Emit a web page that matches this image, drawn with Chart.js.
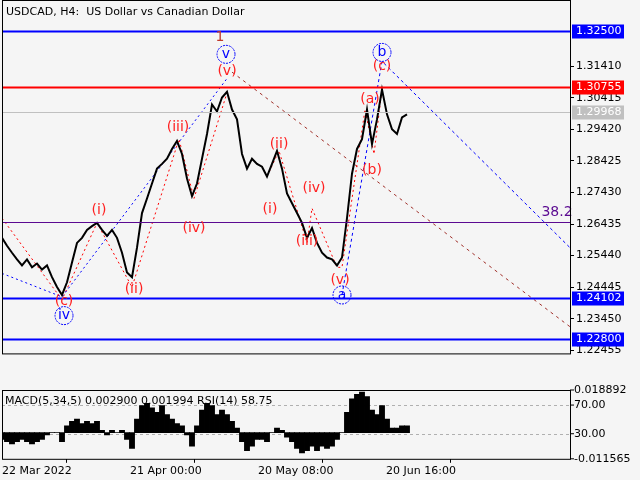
<!DOCTYPE html>
<html>
<head>
<meta charset="utf-8">
<script src="https://cdn.jsdelivr.net/npm/chart.js@4"></script>
<style>
  body { margin: 0; background: #f5f5f5; width: 640px; height: 480px; overflow: hidden; }
  .box { position: absolute; left: 0; width: 640px; }
</style>
</head>
<body>
<div class="box" style="top:0;height:362px"><canvas id="main"></canvas></div>
<div class="box" style="top:385px;height:95px"><canvas id="sub"></canvas></div>
<script>
// 가격 (H4 종가, 그림에서 읽은 값) — x는 차트 위치 인덱스
const barX = [];
for (let x = 0; x <= 405; x += 5) barX.push(x);
const closes = [1.2600,1.2575,1.2553,1.2532,1.2513,1.2532,1.2507,1.2519,1.2500,1.2513,1.2476,1.2445,1.2420,1.2460,1.2522,1.2584,1.2600,1.2625,1.2637,1.2647,
  1.2625,1.2606,1.2625,1.2600,1.2553,1.2491,1.2476,1.2569,1.2678,1.2724,1.2771,1.2818,1.2833,1.2849,1.2880,1.2905,1.2864,1.2787,1.2731,1.2771,
  1.2849,1.2927,1.3020,1.2998,1.3042,1.3060,1.3004,1.2973,1.2864,1.2818,1.2849,1.2833,1.2824,1.2793,1.2833,1.2874,1.2818,1.2740,1.2709,1.2678,
  1.2647,1.2600,1.2631,1.2584,1.2553,1.2538,1.2532,1.2513,1.2538,1.2662,1.2802,1.2880,1.2911,1.3004,1.2895,1.2973,1.3067,1.2989,1.2942,1.2927,1.2979,1.2989];
const macdHist = [-0.003,-0.004,-0.005,-0.004,-0.003,-0.004,-0.005,-0.004,-0.003,-0.001,0.000,0.000,-0.004,0.003,0.005,0.006,0.004,0.005,0.004,0.005,
  0.001,-0.001,0.001,0.000,0.001,-0.003,-0.007,0.006,0.012,0.013,0.011,0.009,0.012,0.008,0.006,0.004,0.003,-0.001,-0.006,0.003,
  0.010,0.013,0.012,0.008,0.010,0.008,0.005,0.002,-0.004,-0.008,-0.006,-0.003,-0.003,-0.004,0.000,0.002,0.001,-0.002,-0.004,-0.007,
  -0.009,-0.008,-0.006,-0.008,-0.006,-0.007,-0.006,-0.003,0.000,0.009,0.015,0.017,0.018,0.016,0.010,0.008,0.012,0.006,0.002,0.002,0.003,0.003];
const rsi = [38,34,40,32,36,44,42,48,40,45,38,50,40,60,62,58,68,72,68,62,
  55,50,55,48,52,42,35,68,72,66,62,60,58,56,52,54,48,40,36,55,
  72,70,64,60,66,55,52,45,32,40,38,50,46,52,48,55,50,42,36,40,
  34,38,38,35,42,38,48,45,52,75,88,90,92,86,66,68,72,58,50,58,55,60];

const priceTicks = [1.31410,1.30415,1.29420,1.28425,1.27430,1.26435,1.25440,1.24445,1.23450,1.22455];
const levels = [
  { price: 1.32500, color: "#0000ff", label: "1.32500", text: "#fff" },
  { price: 1.30755, color: "#ff0000", label: "1.30755", text: "#fff" },
  { price: 1.29968, color: "#c0c0c0", label: "1.29968", text: "#fff", width: 1 },
  { price: 1.26500, color: "#5b0a91", label: null, width: 1 },
  { price: 1.24102, color: "#0000ff", label: "1.24102", text: "#fff" },
  { price: 1.22800, color: "#0000ff", label: "1.22800", text: "#fff" },
];
// 파동 연결선 [x, price]
const waveBlue = [[0,1.2488],[60,1.2414],[226,1.3106]];
const waveBlue2 = [[340,1.2420],[380,1.3156],[568,1.2569]];
const waveRed = [[0,1.2662],[60,1.2405],[95,1.2647],[130,1.2445],[177,1.2911],[192,1.2724],[226,1.3067]];
const waveRed2 = [[265,1.2793],[277,1.2874],[305,1.2584],[310,1.2693],[335,1.2507],[340,1.2507],[363,1.3004],[372,1.2864],[380,1.3067]];
const waveBrown = [[230,1.3122],[568,1.2320]];
const waveLabels = [
  ["1", 218, 1.3232, "#c0392b"], ["(v)", 225, 1.3125, "#ff2020"], ["(iii)", 176, 1.2948, "#ff2020"],
  ["(i)", 97, 1.2687, "#ff2020"], ["(iv)", 192, 1.2631, "#ff2020"], ["(ii)", 132, 1.2438, "#ff2020"],
  ["(i)", 268, 1.2690, "#ff2020"], ["(ii)", 277, 1.2895, "#ff2020"], ["(iv)", 312, 1.2755, "#ff2020"],
  ["(iii)", 305, 1.2590, "#ff2020"], ["(v)", 338, 1.2466, "#ff2020"], ["(a)", 368, 1.3035, "#ff2020"],
  ["(b)", 370, 1.2812, "#ff2020"], ["(c)", 380, 1.3140, "#ff2020"], ["(c)", 62, 1.2401, "#ff2020"],
  ["38.2", 555, 1.2680, "#5b0a91"],
];
const circleLabels = [["v", 224, 1.3178], ["b", 380, 1.3184], ["a", 340, 1.2420], ["iv", 62, 1.2355]];

const FONT = "11px 'DejaVu Sans', sans-serif";
const dash = (pts, color, d) => ({
  type: "line", data: pts.map(p => ({ x: p[0], y: p[1] })), borderColor: color,
  borderWidth: 1, borderDash: d, pointRadius: 0, tension: 0,
});

const overlay = {
  id: "overlay",
  afterDatasetsDraw(chart) {
    const { ctx, chartArea: a, scales: { x, y } } = chart;
    ctx.save();
    levels.forEach(l => {
      const py = Math.round(y.getPixelForValue(l.price)) + 0.5;
      ctx.strokeStyle = l.color; ctx.lineWidth = l.width || 2;
      ctx.beginPath(); ctx.moveTo(a.left, py); ctx.lineTo(a.right, py); ctx.stroke();
      if (l.label) {
        ctx.fillStyle = l.color; ctx.fillRect(a.right + 2, py - 7, 52, 14);
        ctx.fillStyle = l.text; ctx.font = FONT; ctx.textBaseline = "middle";
        ctx.fillText(l.label, a.right + 6, py);
      }
    });
    ctx.textAlign = "center"; ctx.textBaseline = "middle"; ctx.font = "14px 'DejaVu Sans', sans-serif";
    waveLabels.forEach(([t, vx, vy, c]) => {
      ctx.fillStyle = c; ctx.fillText(t, x.getPixelForValue(vx), y.getPixelForValue(vy));
    });
    circleLabels.forEach(([t, vx, vy]) => {
      const px = x.getPixelForValue(vx), py = y.getPixelForValue(vy);
      ctx.strokeStyle = "#0000ff"; ctx.lineWidth = 1; ctx.setLineDash([2, 1]);
      ctx.beginPath(); ctx.arc(px, py, 9, 0, Math.PI * 2); ctx.stroke(); ctx.setLineDash([]);
      ctx.fillStyle = "#0000ff"; ctx.fillText(t, px, py);
    });
    ctx.strokeStyle = "#000"; ctx.lineWidth = 1;
    ctx.strokeRect(a.left + 0.5, 0.5, a.right - a.left, a.bottom);
    ctx.textAlign = "left"; ctx.fillStyle = "#000"; ctx.font = FONT;
    ctx.fillText("USDCAD, H4:  US Dollar vs Canadian Dollar", 6, 12);
    ctx.restore();
  },
};

new Chart(document.getElementById("main"), {
  type: "line",
  data: {
    datasets: [
      { data: barX.map((v, i) => ({ x: v, y: closes[i] })), borderColor: "#000", borderWidth: 2, pointRadius: 0, tension: 0 },
      dash(waveBlue, "#0000ff", [2, 3]),
      dash(waveBlue2, "#0000ff", [3, 3]),
      dash(waveRed, "#ff0000", [2, 3]),
      dash(waveRed2, "#ff0000", [2, 3]),
      dash(waveBrown, "#a0302a", [3, 4]),
    ],
  },
  options: {
    responsive: true, maintainAspectRatio: false, animation: false,
    layout: { padding: { top: 8, left: 2, bottom: 3 } },
    plugins: { legend: { display: false }, tooltip: { enabled: false } },
    scales: {
      x: { type: "linear", min: 0, max: 568, display: false },
      y: {
        position: "right", min: 1.2236, max: 1.3322,
        afterFit: s => { s.width = 70; },
        afterBuildTicks: s => { s.ticks = priceTicks.map(v => ({ value: v })); },
        grid: { drawOnChartArea: false, tickLength: 4, color: "#000" },
        border: { color: "#000" },
        ticks: { color: "#000", font: { size: 11, family: "DejaVu Sans" }, padding: 2, callback: v => v.toFixed(5) },
      },
    },
  },
  plugins: [overlay],
});

// 하단 MACD + RSI 패널
const dateTicks = [0, 128, 256, 384];
const dateLabels = ["22 Mar 2022", "21 Apr 00:00", "20 May 08:00", "20 Jun 16:00"];
const subOverlay = {
  id: "subOverlay",
  beforeDatasetsDraw(chart) {
    const { ctx, chartArea: a, scales: { r } } = chart;
    ctx.save();
    ctx.strokeStyle = "#b0b0b0"; ctx.setLineDash([3, 3]); ctx.lineWidth = 1;
    [70, 30].forEach(v => {
      const py = Math.round(r.getPixelForValue(v)) + 0.5;
      ctx.beginPath(); ctx.moveTo(a.left, py); ctx.lineTo(a.right, py); ctx.stroke();
    });
    ctx.restore();
  },
  afterDatasetsDraw(chart) {
    const { ctx, chartArea: a, scales: { r, m } } = chart;
    ctx.save();
    ctx.strokeStyle = "#000"; ctx.lineWidth = 1;
    ctx.strokeRect(a.left + 0.5, a.top + 0.5, a.right - a.left, a.bottom - a.top);
    ctx.font = FONT; ctx.fillStyle = "#000"; ctx.textBaseline = "middle";
    ctx.fillText("MACD(5,34,5) 0.002900 0.001994 RSI(14) 58.75", 5, a.top + 11);
    const marks = [[m.getPixelForValue(0.018892), "0.018892"], [r.getPixelForValue(70), "70.00"],
      [r.getPixelForValue(30), "30.00"], [m.getPixelForValue(-0.011565), "-0.011565"]];
    marks.forEach(([py, t]) => {
      ctx.beginPath(); ctx.moveTo(a.right, py); ctx.lineTo(a.right + 4, py); ctx.stroke();
      ctx.fillText(t, a.right + 4, py);
    });
    ctx.restore();
  },
};

new Chart(document.getElementById("sub"), {
  data: {
    datasets: [
      { type: "line", data: barX.map((v, i) => ({ x: v, y: rsi[i] })), yAxisID: "r", borderColor: "#1e90ff", borderWidth: 2, pointRadius: 0, tension: 0, order: 0 },
      { type: "bar", data: barX.map((v, i) => ({ x: v, y: macdHist[i] })), yAxisID: "m", backgroundColor: "#000", barThickness: 5.2, order: 1 },
    ],
  },
  options: {
    responsive: true, maintainAspectRatio: false, animation: false,
    layout: { padding: { top: 5, left: 2, right: 70 } },
    plugins: { legend: { display: false }, tooltip: { enabled: false } },
    scales: {
      x: {
        type: "linear", min: 0, max: 568, offset: false,
        afterBuildTicks: s => { s.ticks = dateTicks.map(v => ({ value: v })); },
        grid: { drawOnChartArea: false, tickLength: 4, color: "#000" },
        border: { display: false },
        ticks: { color: "#000", align: "start", maxRotation: 0, font: { size: 11, family: "DejaVu Sans" }, padding: 2,
          callback: v => dateLabels[dateTicks.indexOf(v)] },
      },
      m: { display: false, min: -0.011565, max: 0.018892 },
      r: { display: false, min: 2, max: 98 },
    },
  },
  plugins: [subOverlay],
});
</script>
</body>
</html>
